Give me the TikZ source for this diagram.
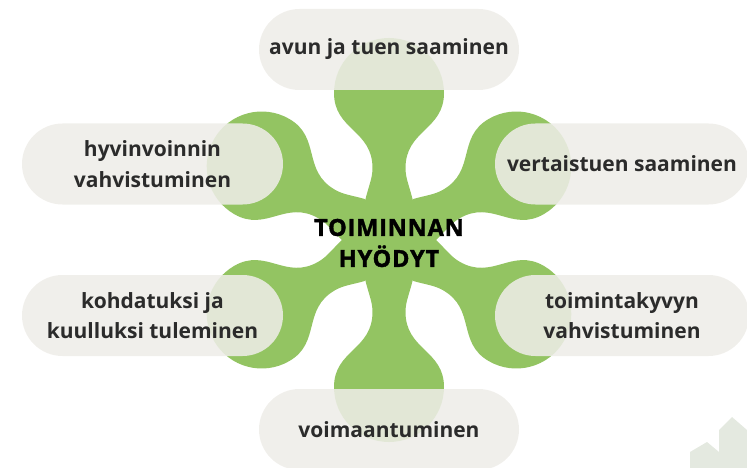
\documentclass[tikz,border=0pt]{standalone}
\usepackage{fontspec}
\setmainfont{Open Sans}
\newfontfamily\titlefont{Open Sans}[BoldFeatures={FakeBold=1.5,LetterSpace=3.5}]
\definecolor{leaf}{HTML}{93C462}
\definecolor{pillc}{HTML}{EEEDE8}
\definecolor{ink}{HTML}{2B2B2B}
\definecolor{housec}{HTML}{E4E9E0}
\tikzset{
  pillbox/.style={fill=pillc, fill opacity=0.87, text opacity=1, text=ink,
    rounded corners=40.5pt, minimum height=81pt, inner sep=0pt, align=center,
    font=\fontsize{21}{30.5}\selectfont\bfseries},
  titletext/.style={text=black, align=center,
    font=\titlefont\fontsize{23.5}{31}\selectfont\bfseries}
}
\begin{document}
\begin{tikzpicture}[x=1pt,y=-1pt]
\useasboundingbox (0,0) rectangle (747,468);
% central green shape
\begin{scope}[shift={(389,240)}]
\foreach \a in {30,90,150,210,270,330} {
  \fill[leaf,rotate=\a] (-15,0) -- (41,-23.5)
    .. controls (55,-20) and (62,-16.5) .. (72,-16.5)
    .. controls (110,-16.5) and (110,-55) .. (147,-55)
    arc[start angle=-90,end angle=90,radius=55]
    .. controls (110,55) and (110,16.5) .. (72,16.5)
    .. controls (62,16.5) and (55,20) .. (41,23.5) -- cycle;
}
\end{scope}
% house
\fill[housec] (690,468) -- (690,452) -- (707,442) -- (719,452) -- (719,430)
  -- (732,417) -- (747,430) -- (747,468) -- cycle;
% pills
\node[pillbox, minimum width=260pt] (top) at (389,49.5) {avun ja tuen saaminen};
\node[pillbox, minimum width=261pt] (ul) at (152.5,164) {hyvinvoinnin\\vahvistuminen};
\node[pillbox, minimum width=254pt] (ur) at (622,164) {vertaistuen saaminen};
\node[pillbox, minimum width=261pt] (ll) at (152.5,315.5) {kohdatuksi ja\\kuulluksi tuleminen};
\node[pillbox, minimum width=254pt] (lr) at (622,315.5) {toimintakyvyn\\vahvistuminen};
\node[pillbox, minimum width=260pt] (bot) at (389,429.5) {voimaantuminen};
% title
\node[titletext] (title) at (389,243) {TOIMINNAN\\HYÖDYT};
\end{tikzpicture}
\end{document}
